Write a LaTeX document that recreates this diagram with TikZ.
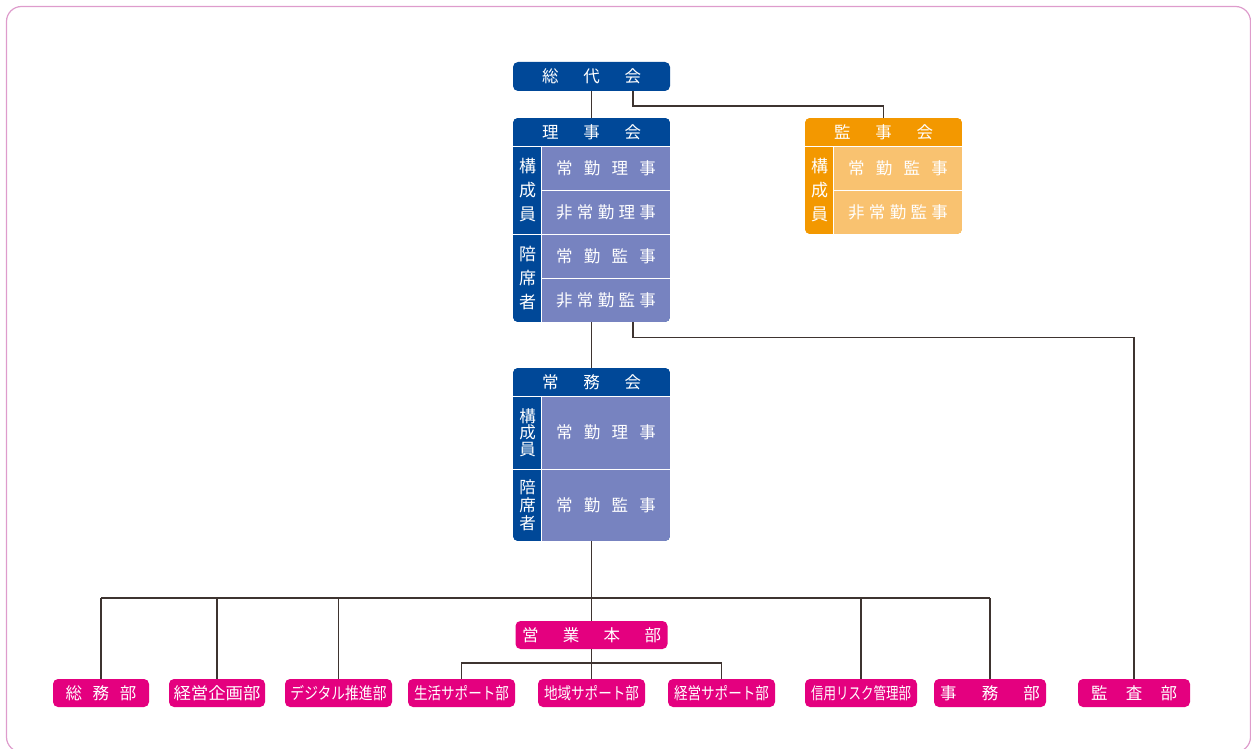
\documentclass[tikz,border=0pt]{standalone}
\usepackage{fontspec}
\setmainfont{Noto Sans CJK JP}
\usetikzlibrary{calc}
\definecolor{bluscuro}{RGB}{0,72,152}
\definecolor{blulilla}{RGB}{119,131,192}
\definecolor{arancio}{RGB}{243,152,0}
\definecolor{aranciochiaro}{RGB}{249,194,112}
\definecolor{fucsia}{RGB}{228,0,127}
\definecolor{rosacornice}{RGB}{222,156,204}
\definecolor{linea}{RGB}{62,52,48}
\newcommand{\spaziato}[2]{\makebox[#1][s]{#2}}
\newcommand{\stretto}[2]{\resizebox{#1}{\height}{#2}}

\begin{document}
\begin{tikzpicture}[x=1pt, y=-1pt,
    testa/.style={fill=#1, text=white, inner sep=0pt, minimum width=157pt, minimum height=28pt, font=\fontsize{16.5}{20}\selectfont},
    riga/.style={fill=#1, text=white, inner sep=0pt, minimum width=128pt, font=\fontsize{16.5}{20}\selectfont},
    etichetta/.style={fill=#1, text=white, inner sep=0pt, minimum width=29pt, align=center},
    ufficio/.style={fill=fucsia, text=white, rounded corners=5pt, inner sep=0pt, minimum height=28pt, font=\fontsize{16.5}{20}\selectfont},
    filo/.style={draw=linea, line width=1.4pt},
    sep/.style={draw=white, line width=1.2pt}]
    \useasboundingbox (0,0) rectangle (1251,749);
    % Cornice
    \draw[rosacornice, line width=1.2pt, rounded corners=15pt] (6.5,6.5) rectangle (1250.5,752);

    % Assemblea dei delegati
    \node[testa=bluscuro, rounded corners=5pt, minimum height=29pt] (sodai) at (591.5,76.5) {\spaziato{99pt}{総 代 会}};

    % Consiglio
    \begin{scope}
        \clip[rounded corners=5pt] (513,118) rectangle (670,322);
        \fill[bluscuro] (513,118) rectangle (670,322);
        \node[testa=bluscuro] (riji) at (591.5,132) {\spaziato{99pt}{理 事 会}};
        \node[etichetta=bluscuro, minimum height=88pt, font=\fontsize{17}{24}\selectfont] (riji-a) at (527.5,190) {構\\成\\員};
        \node[etichetta=bluscuro, minimum height=88pt, font=\fontsize{17}{24}\selectfont] (riji-b) at (527.5,278) {陪\\席\\者};
        \node[riga=blulilla, minimum height=44pt] (r1) at (606,168) {\spaziato{100pt}{常 勤 理 事}};
        \node[riga=blulilla, minimum height=44pt] (r2) at (606,212) {\spaziato{100pt}{非 常 勤 理 事}};
        \node[riga=blulilla, minimum height=44pt] (r3) at (606,256) {\spaziato{100pt}{常 勤 監 事}};
        \node[riga=blulilla, minimum height=44pt] (r4) at (606,300) {\spaziato{100pt}{非 常 勤 監 事}};
        \draw[sep] (riji.south west) -- (riji.south east);
        \draw[sep] (r1.north west) -- (r4.south west);
        \draw[sep] (r1.south west) -- (r1.south east);
        \draw[sep] (riji-a.south west) -- (r2.south east);
        \draw[sep] (r3.south west) -- (r3.south east);
    \end{scope}

    % Collegio sindacale
    \begin{scope}
        \clip[rounded corners=5pt] (805,118) rectangle (962,234);
        \fill[arancio] (805,118) rectangle (962,234);
        \node[testa=arancio] (kanji) at (883.5,132) {\spaziato{99pt}{監 事 会}};
        \node[etichetta=arancio, minimum height=88pt, font=\fontsize{17}{24}\selectfont] (kanji-a) at (819.5,190) {構\\成\\員};
        \node[riga=aranciochiaro, minimum height=44pt] (k1) at (898,168) {\spaziato{100pt}{常 勤 監 事}};
        \node[riga=aranciochiaro, minimum height=44pt] (k2) at (898,212) {\spaziato{100pt}{非 常 勤 監 事}};
        \draw[sep] (kanji.south west) -- (kanji.south east);
        \draw[sep] (k1.north west) -- (k2.south west);
        \draw[sep] (k1.south west) -- (k1.south east);
    \end{scope}

    % Comitato esecutivo
    \begin{scope}
        \clip[rounded corners=5pt] (513,368) rectangle (670,541);
        \fill[bluscuro] (513,368) rectangle (670,541);
        \node[testa=bluscuro] (jomu) at (591.5,382) {\spaziato{99pt}{常 務 会}};
        \node[etichetta=bluscuro, minimum height=73pt, font=\fontsize{16.5}{16.5}\selectfont] (jomu-a) at (527.5,432.5) {構\\成\\員};
        \node[etichetta=bluscuro, minimum height=72pt, font=\fontsize{16.5}{18}\selectfont] (jomu-b) at (527.5,505) {陪\\席\\者};
        \node[riga=blulilla, minimum height=73pt] (j1) at (606,432.5) {\spaziato{100pt}{常 勤 理 事}};
        \node[riga=blulilla, minimum height=72pt] (j2) at (606,505) {\spaziato{100pt}{常 勤 監 事}};
        \draw[sep] (jomu.south west) -- (jomu.south east);
        \draw[sep] (j1.north west) -- (j2.south west);
        \draw[sep] (jomu-a.south west) -- (j1.south east);
    \end{scope}

    % Uffici
    \node[ufficio, minimum width=152pt] (eigyo) at (591.5,635) {\spaziato{139pt}{営 業 本 部}};
    \node[ufficio, minimum width=96pt] (somu) at (101,693) {\spaziato{71pt}{総 務 部}};
    \node[ufficio, minimum width=96pt] (kikaku) at (217,693) {\stretto{87pt}{経営企画部}};
    \node[ufficio, minimum width=107pt] (digital) at (338.5,693) {\stretto{96pt}{デジタル推進部}};
    \node[ufficio, minimum width=107pt] (seikatsu) at (461.5,693) {\stretto{95pt}{生活サポート部}};
    \node[ufficio, minimum width=107pt] (chiiki) at (591.5,693) {\stretto{95pt}{地域サポート部}};
    \node[ufficio, minimum width=107pt] (keisup) at (721.5,693) {\stretto{95pt}{経営サポート部}};
    \node[ufficio, minimum width=112pt] (shinyo) at (861,693) {\stretto{100pt}{信用リスク管理部}};
    \node[ufficio, minimum width=112pt] (jimu) at (990,693) {\spaziato{100pt}{事 務 部}};
    \node[ufficio, minimum width=112pt] (kansa) at (1134,693) {\spaziato{86pt}{監 査 部}};

    % Collegamenti
    \draw[filo] (sodai.south) -- (riji.north);
    \draw[filo] ($(sodai.south)+(41.5,0)$) -- ++(0,15) -| (kanji.north);
    \draw[filo] (riji.north |- r4.south) -- (jomu.north);
    \draw[filo] ($(riji.north |- r4.south)+(41.5,0)$) -- ++(0,15) -| (kansa.north);
    \draw[filo] (jomu.north |- j2.south) -- (eigyo.north);
    \coordinate (bus) at (591.5,598);
    \draw[filo] (somu.north |- bus) -- (jimu.north |- bus);
    \foreach \u in {somu,kikaku,digital,shinyo,jimu}
        \draw[filo] (\u.north) -- (\u.north |- bus);
    \coordinate (sub) at (591.5,663);
    \draw[filo] (seikatsu.north) |- (sub) -| (keisup.north);
    \draw[filo] (eigyo.south) -- (chiiki.north);
\end{tikzpicture}
\end{document}
